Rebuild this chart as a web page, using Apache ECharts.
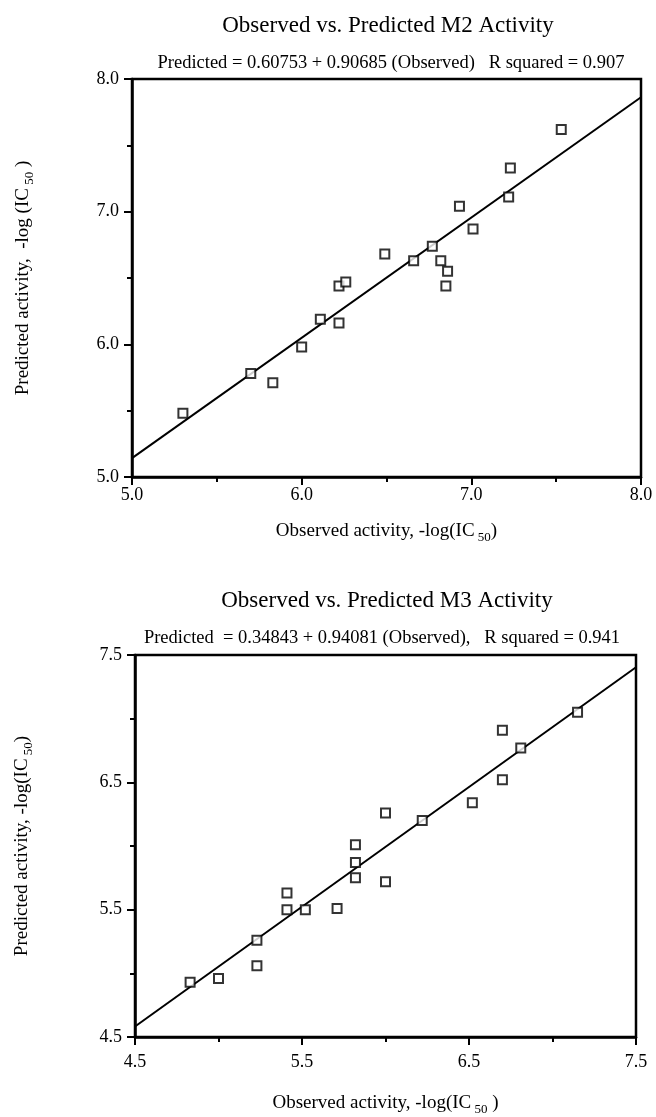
<!DOCTYPE html>
<html>
<head>
<meta charset="utf-8">
<script src="https://cdn.jsdelivr.net/npm/echarts@6/dist/echarts.min.js"></script>
<style>
html,body{margin:0;padding:0;background:#fff;}
#c{width:656px;height:1117px;}
</style>
</head>
<body>
<div id="c"></div>
<script>
// ---- M2 panel data ----
var m2Observed = [5.30, 5.70, 5.83, 6.00, 6.11, 6.22, 6.22, 6.26, 6.49, 6.66, 6.77, 6.82, 6.86, 6.85, 6.93, 7.01, 7.22, 7.23, 7.53];
var m2Predicted = [5.48, 5.78, 5.71, 5.98, 6.19, 6.16, 6.44, 6.47, 6.68, 6.63, 6.74, 6.63, 6.55, 6.44, 7.04, 6.87, 7.11, 7.33, 7.62];
var m2FitX = [5.0, 8.0];
var m2FitY = [5.142, 7.862];
var m2Ticks = ['5.0', '6.0', '7.0', '8.0'];

// ---- M3 panel data ----
var m3Observed = [4.83, 5.00, 5.23, 5.23, 5.41, 5.41, 5.52, 5.71, 5.82, 5.82, 5.82, 6.00, 6.00, 6.22, 6.52, 6.70, 6.70, 6.81, 7.15];
var m3Predicted = [4.93, 4.96, 5.06, 5.26, 5.50, 5.63, 5.50, 5.51, 5.75, 5.87, 6.01, 5.72, 6.26, 6.20, 6.34, 6.52, 6.91, 6.77, 7.05];
var m3FitX = [4.5, 7.5];
var m3FitY = [4.582, 7.404];
var m3Ticks = ['4.5', '5.5', '6.5', '7.5'];

var titles = ['Observed vs. Predicted M2 Activity', 'Observed vs. Predicted M3 Activity'];
var subtitles = ['Predicted = 0.60753 + 0.90685 (Observed)   R squared = 0.907',
                 'Predicted  = 0.34843 + 0.94081 (Observed),   R squared = 0.941'];

var FONT = '"Liberation Serif", "Times New Roman", serif';

function pairs(xs, ys) { return xs.map(function (x, i) { return [x, ys[i]]; }); }

var rich = {
  a: { fontFamily: FONT, fontSize: 19, color: '#000', lineHeight: 26 },
  s: { fontFamily: FONT, fontSize: 13, color: '#000', lineHeight: 13, verticalAlign: 'bottom' }
};

function axisCommon(min, max, ticks, labelMargin) {
  return {
    type: 'value', min: min, max: max, interval: 1,
    axisLine: { show: true, onZero: false, lineStyle: { color: '#000', width: 2.5 } },
    axisTick: { show: true, inside: false, length: 8, lineStyle: { color: '#000', width: 2 } },
    minorTick: { show: true, splitNumber: 2, length: 5, lineStyle: { color: '#000', width: 2 } },
    splitLine: { show: false },
    axisLabel: {
      fontFamily: FONT, fontSize: 18, color: '#000', margin: labelMargin,
      formatter: function (v) {
        var i = Math.round(v - min);
        return ticks[i] !== undefined ? ticks[i] : '';
      }
    },
    nameLocation: 'middle',
    nameTextStyle: { rich: rich }
  };
}

var grids = [
  { left: 132, top: 79, width: 509, height: 398, show: true, borderColor: '#000', borderWidth: 2.5, backgroundColor: 'transparent' },
  { left: 135, top: 655, width: 501, height: 386, show: true, borderColor: '#000', borderWidth: 2.5, backgroundColor: 'transparent' }
];

var x0 = axisCommon(5, 8, m2Ticks, 9); x0.gridIndex = 0;
x0.name = '{a|Observed activity, -log(IC}{s| 50}{a|)}'; x0.nameGap = 41;
var y0 = axisCommon(5, 8, m2Ticks, 13); y0.gridIndex = 0;
y0.name = '{a|Predicted activity,  -log (IC}{s| 50}{a| )}'; y0.nameGap = 96;

var x1 = axisCommon(4.5, 7.5, m3Ticks, 16); x1.gridIndex = 1;
x1.name = '{a|Observed activity, -log(IC}{s| 50}{a| )}'; x1.nameGap = 53;
var y1 = axisCommon(4.5, 7.5, m3Ticks, 13); y1.gridIndex = 1;
y1.name = '{a|Predicted activity, -log(IC}{s| 50}{a|)}'; y1.nameGap = 100;

var scatterStyle = { color: '#fff', borderColor: '#000', borderWidth: 2 };

var option = {
  backgroundColor: '#fff',
  animation: false,
  title: [
    { text: titles[0], left: 383, top: 9, textAlign: 'center',
      textStyle: { fontFamily: FONT, fontSize: 23, fontWeight: 'normal', color: '#000' } },
    { text: subtitles[0], left: 386, top: 49, textAlign: 'center',
      textStyle: { fontFamily: FONT, fontSize: 18.5, fontWeight: 'normal', color: '#000' } },
    { text: titles[1], left: 382, top: 584, textAlign: 'center',
      textStyle: { fontFamily: FONT, fontSize: 23, fontWeight: 'normal', color: '#000' } },
    { text: subtitles[1], left: 377, top: 624, textAlign: 'center',
      textStyle: { fontFamily: FONT, fontSize: 18.5, fontWeight: 'normal', color: '#000' } }
  ],
  grid: grids,
  xAxis: [x0, x1],
  yAxis: [y0, y1],
  series: [
    { type: 'line', xAxisIndex: 0, yAxisIndex: 0, data: pairs(m2FitX, m2FitY), symbol: 'none',
      lineStyle: { color: '#000', width: 2 }, z: 2 },
    { type: 'scatter', xAxisIndex: 0, yAxisIndex: 0, data: pairs(m2Observed, m2Predicted),
      symbol: 'rect', symbolSize: 9, itemStyle: scatterStyle, z: 3 },
    { type: 'line', xAxisIndex: 1, yAxisIndex: 1, data: pairs(m3FitX, m3FitY), symbol: 'none',
      lineStyle: { color: '#000', width: 2 }, z: 2 },
    { type: 'scatter', xAxisIndex: 1, yAxisIndex: 1, data: pairs(m3Observed, m3Predicted),
      symbol: 'rect', symbolSize: 9, itemStyle: scatterStyle, z: 3 }
  ]
};

var chart = echarts.init(document.getElementById('c'), null, { renderer: 'canvas' });
chart.setOption(option);
</script>
</body>
</html>
